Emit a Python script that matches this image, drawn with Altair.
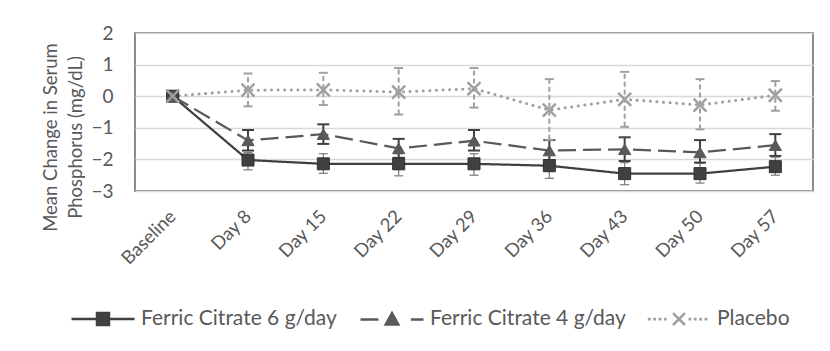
import altair as alt
import pandas as pd

days = ["Baseline", "Day 8", "Day 15", "Day 22", "Day 29", "Day 36", "Day 43", "Day 50", "Day 57"]
series_names = ["Ferric Citrate 6 g/day", "Ferric Citrate 4 g/day", "Placebo"]

fc6_mean = [0, -2.02, -2.14, -2.14, -2.14, -2.2, -2.45, -2.45, -2.23]
fc6_lo = [0, -2.33, -2.44, -2.52, -2.5, -2.6, -2.8, -2.75, -2.5]
fc6_hi = [0, -1.78, -1.82, -1.82, -1.82, -1.86, -2.1, -2.12, -1.93]

fc4_mean = [0, -1.4, -1.2, -1.65, -1.41, -1.72, -1.68, -1.78, -1.55]
fc4_lo = [0, -1.72, -1.51, -1.95, -1.72, -2.02, -2.05, -2.1, -1.89]
fc4_hi = [0, -1.07, -0.89, -1.35, -1.07, -1.39, -1.3, -1.39, -1.2]

pl_mean = [0, 0.19, 0.2, 0.13, 0.24, -0.44, -0.1, -0.28, 0.03]
pl_lo = [0, -0.32, -0.28, -0.58, -0.36, -1.38, -0.97, -1.05, -0.46]
pl_hi = [0, 0.72, 0.74, 0.89, 0.89, 0.54, 0.77, 0.54, 0.48]

rows = []
for name, ms, los, his in zip(series_names, [fc6_mean, fc4_mean, pl_mean],
                              [fc6_lo, fc4_lo, pl_lo], [fc6_hi, fc4_hi, pl_hi]):
    for d, m, lo, hi in zip(days, ms, los, his):
        rows.append({"Series": name, "Day": d, "Mean": m, "Lo": lo, "Hi": hi})
df = pd.DataFrame(rows)

FONT = "Lato"
TXT = "#595959"

x_axis = alt.Axis(title=None, labelAngle=315, labelAlign="right", labelBaseline="middle",
                  labelPadding=22, labelFontSize=18.5, labelColor=TXT, ticks=False, tickSize=0,
                  domain=False, grid=False, labelFont=FONT)
y_axis = alt.Axis(title=["Mean Change in Serum", "Phosphorus (mg/dL)"], values=[-3, -2, -1, 0, 1, 2],
                  labelFontSize=19, labelColor=TXT, labelPadding=22, ticks=False, tickSize=0,
                  domain=False, grid=True, gridColor="#D9D9D9", gridWidth=1.5,
                  titleFontSize=18.5, titleFontWeight="normal", titleColor=TXT, titleFont=FONT,
                  titleAngle=270, titleAlign="center", titleBaseline="bottom",
                  titleX=-75, titleY=104, titleLineHeight=25, labelFont=FONT)

x_scale = alt.Scale(domain=days, paddingInner=0, paddingOuter=0)
y_scale = alt.Scale(domain=[-3, 2], nice=False, zero=False)

def X():
    return alt.X("Day:N", sort=days, scale=x_scale, axis=x_axis)

styles = {
    "Ferric Citrate 6 g/day": dict(color="#404040", dash=[1, 0], lw=2.25, cap="butt",
                                   ecolor="#7F7F7F", ew=1.25, edash=[1, 0], capw=9,
                                   shape="square", msize=144, filled=True),
    "Ferric Citrate 4 g/day": dict(color="#595959", dash=[18, 7], lw=2.25, cap="butt",
                                   ecolor="#404040", ew=2, edash=[1, 0], capw=12,
                                   shape="triangle-up", msize=150, filled=True),
    "Placebo": dict(color="#A0A0A0", dash=[0.1, 6.5], lw=3, cap="round",
                    ecolor="#A0A0A0", ew=2, edash=[5, 3], capw=9,
                    shape="M-1,-1L1,1M-1,1L1,-1", msize=169, filled=False),
}

line_layers, err_layers, pt_layers = [], [], []
for name in series_names:
    s = styles[name]
    base = alt.Chart(df).transform_filter(alt.datum.Series == name)
    line_layers.append(base.mark_line(color=s["color"], strokeWidth=s["lw"], strokeDash=s["dash"],
                                      strokeCap=s["cap"]).encode(
        x=X(), y=alt.Y("Mean:Q", scale=y_scale, axis=y_axis)))
    eb = base.transform_filter(alt.datum.Day != "Baseline")
    err_layers.append(eb.mark_rule(color=s["ecolor"], strokeWidth=s["ew"], strokeDash=s["edash"]).encode(
        x=X(), y=alt.Y("Lo:Q", scale=y_scale, axis=y_axis), y2="Hi:Q"))
    for fld in ["Lo", "Hi"]:
        err_layers.append(eb.mark_tick(color=s["ecolor"], thickness=s["ew"], size=s["capw"], opacity=1).encode(
            x=X(), y=alt.Y(f"{fld}:Q", scale=y_scale, axis=y_axis)))
    if s["filled"]:
        pt = base.mark_point(shape=s["shape"], size=s["msize"], filled=True, opacity=1,
                             fill=s["color"], stroke="#303030" if name.startswith("Ferric Citrate 6") else s["color"],
                             strokeWidth=1)
    else:
        pt = base.mark_point(shape=s["shape"], size=s["msize"], filled=False, opacity=1,
                             stroke=s["color"], strokeWidth=2.5)
    pt_layers.append(pt.encode(x=X(), y=alt.Y("Mean:Q", scale=y_scale, axis=y_axis)))

# legend symbols (custom paths combining line and marker)
dot = "h0.01v0.01h-0.01Z"
legend_paths = [
    "M-1,0H1M-0.19,-0.19H0.19V0.19H-0.19Z",
    "M-1,0H-0.43M-0.2,0.16L0,-0.2L0.2,0.16ZM0.6,0H1",
    "".join(f"M{x0:.2f},0{dot}" for x0 in [-0.95, -0.78, -0.61, -0.44])
    + "M-0.19,-0.19L0.19,0.19M-0.19,0.19L0.19,-0.19"
    + "".join(f"M{x0:.2f},0{dot}" for x0 in [0.34, 0.51, 0.68, 0.85]),
]
legend_colors = ["#404040", "#595959", "#A0A0A0"]
leg = alt.Legend(title=None, orient="none", direction="horizontal", legendX=-65, legendY=253,
                 labelFontSize=21, labelColor=TXT, labelFont=FONT, symbolSize=3969, labelLimit=400,
                 symbolStrokeWidth=2.5, labelOffset=5, columnPadding=18)
legend_df = pd.DataFrame({"Series": series_names, "Day": [days[0]] * 3, "Y": [10, 10, 10]})
legend_layer = alt.Chart(legend_df).mark_point(filled=True, opacity=1, clip=True, size=3969,
                                               strokeWidth=2.5).encode(
    x=X(), y=alt.Y("Y:Q", scale=y_scale, axis=y_axis),
    fill=alt.Fill("Series:N", scale=alt.Scale(domain=series_names, range=legend_colors), legend=leg),
    stroke=alt.Stroke("Series:N", scale=alt.Scale(domain=series_names, range=legend_colors), legend=leg),
    shape=alt.Shape("Series:N", scale=alt.Scale(domain=series_names, range=legend_paths), legend=leg),
)

chart = alt.layer(*line_layers, *err_layers, *pt_layers, legend_layer).properties(
    width=678, height=158,
    padding={"left": 127, "top": 25, "right": 9, "bottom": 152},
    autosize=alt.AutoSizeParams(type="none"),
).configure(font=FONT).configure_view(stroke="#8C8C8C", strokeWidth=2)

chart.save("out.html", embed_options={"renderer": "svg", "actions": False})
